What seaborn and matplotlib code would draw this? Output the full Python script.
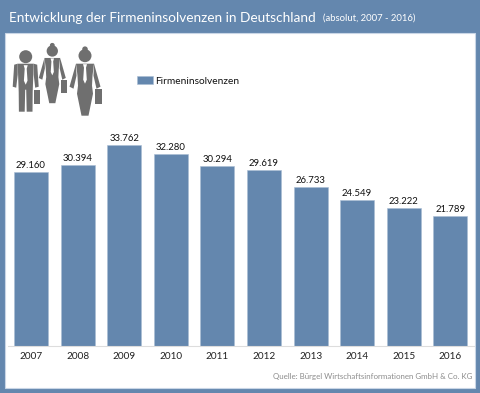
import pandas as pd
import matplotlib
matplotlib.use("Agg")
import matplotlib.pyplot as plt
from matplotlib.patches import Rectangle, Circle, Polygon
import seaborn as sns

# DATA
years = ["2007", "2008", "2009", "2010", "2011", "2012", "2013", "2014", "2015", "2016"]
insolvenzen = [29160, 30394, 33762, 32280, 30294, 29619, 26733, 24549, 23222, 21789]
value_labels = ["29.160", "30.394", "33.762", "32.280", "30.294", "29.619", "26.733", "24.549", "23.222", "21.789"]

BLUE = "#6487AE"
GREY = "#6F6F6F"
W, H = 480, 393

sns.set_theme(style="white")
plt.rcParams["font.family"] = ["Lato", "DejaVu Sans"]


def shape(ax, x, y, s, pts, color=GREY):
    ax.add_patch(Polygon([(x + px * s, y + py * s) for px, py in pts], color=color, lw=0))


def person(ax, x, y, s, female=False):
    # business figure, x/y = head centre in pixels
    ax.add_patch(Circle((x, y), 6.5 * s, color=GREY, lw=0))
    if female:
        ax.add_patch(Circle((x, y - 6.5 * s), 2.8 * s, color=GREY, lw=0))
        shape(ax, x, y, s, [(-9, 8), (9, 8), (7.5, 20), (7, 30), (8, 38), (3.5, 60), (-3.5, 60),
                            (-8, 38), (-7, 30), (-7.5, 20)])
        shape(ax, x, y, s, [(-9, 8), (-15.5, 31), (-11.5, 33), (-8.5, 20)])
        shape(ax, x, y, s, [(9, 8), (15.5, 31), (11.5, 33), (8.5, 20)])
        ax.add_patch(Rectangle((x + 10 * s, y + 33 * s), 6.5 * s, 15 * s, color=GREY, lw=0))
    else:
        shape(ax, x, y, s, [(-8, 7), (8, 7), (7, 35), (6.8, 55), (1, 55), (0.5, 33), (-0.5, 33),
                            (-1, 55), (-6.8, 55), (-7, 35)])
        shape(ax, x, y, s, [(-8, 7), (-11.5, 8), (-13, 30), (-9.5, 31), (-8, 18)])
        shape(ax, x, y, s, [(8, 7), (11.5, 8), (13, 30), (9.5, 31), (8, 18)])
        ax.add_patch(Rectangle((x + 8.5 * s, y + 33 * s), 6 * s, 14 * s, color=GREY, lw=0))
    # tie
    shape(ax, x, y, s, [(-2, 8.5), (2, 8.5), (1, 12), (1.8, 24), (0, 28), (-1.8, 24), (-1, 12)], color="white")


fig = plt.figure(figsize=(W / 100, H / 100), dpi=100, facecolor=BLUE)

# background layer in pixel coordinates (panel, title, icons)
bg = fig.add_axes([0, 0, 1, 1])
bg.set_xlim(0, W)
bg.set_ylim(H, 0)
bg.axis("off")
bg.add_patch(Rectangle((4.5, 33), 470.5, 355, facecolor="white", edgecolor="#C9D6E6", lw=0.8))
bg.text(9, 17.5, "Entwicklung der Firmeninsolvenzen in Deutschland", color="white",
        fontsize=9.85, va="center", ha="left")
bg.text(323, 18.5, "(absolut, 2007 - 2016)", color="white", fontsize=6.8, va="center", ha="left")
bg.text(472, 377, "Quelle: Bürgel Wirtschaftsinformationen GmbH & Co. KG", color="#8C8C8C",
        fontsize=5.7, va="center", ha="right")
person(bg, 25.7, 56.7, 1.0)
person(bg, 52.3, 51, 0.87, female=True)
person(bg, 85, 55.7, 1.0, female=True)

# chart
df = pd.DataFrame({"Jahr": years, "Firmeninsolvenzen": insolvenzen})
ax = fig.add_axes([7.7 / W, 1 - 346 / H, 466 / W, 238 / H])
ax.patch.set_alpha(0)
sns.barplot(data=df, x="Jahr", y="Firmeninsolvenzen", color=BLUE, saturation=1, width=0.73,
            edgecolor="#A9BDD3", linewidth=0.4, ax=ax, label="Firmeninsolvenzen")
ax.set_xlim(-0.5, 9.5)
ax.set_ylim(0, 40000)
ax.set_xlabel("")
ax.set_ylabel("")
ax.set_yticks([])
for side in ["top", "left", "right"]:
    ax.spines[side].set_visible(False)
ax.spines["bottom"].set_color("#DDDDDD")
ax.spines["bottom"].set_linewidth(0.8)
ax.tick_params(axis="x", length=0, pad=4.5, labelsize=7.2, labelcolor="#222222")

ax.bar_label(ax.containers[0], labels=value_labels, fontsize=6.9, color="#111111", padding=1.5)

ax.legend(loc="upper left", bbox_to_anchor=(129 / 466, 1.134), frameon=False,
          fontsize=7.25, handlelength=1.6, handleheight=0.9, handletextpad=0.2,
          borderpad=0, borderaxespad=0, labelcolor="#111111")

fig.savefig("out.png", dpi=100, facecolor=fig.get_facecolor())
